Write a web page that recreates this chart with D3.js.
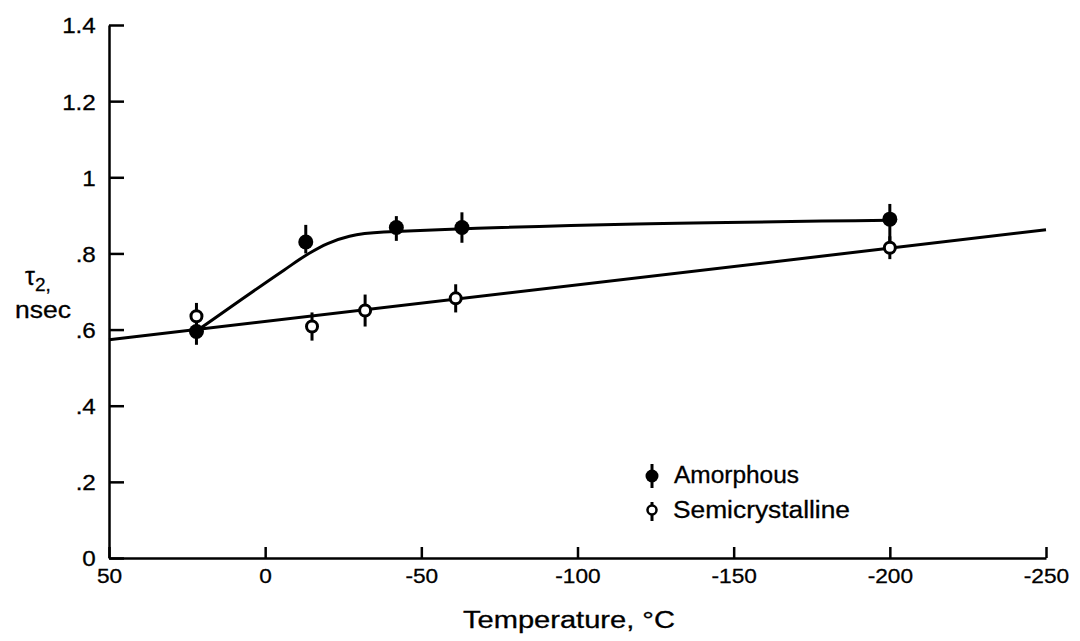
<!DOCTYPE html>
<html>
<head>
<meta charset="utf-8">
<script src="https://cdn.jsdelivr.net/npm/d3@7"></script>
<style>
	body { margin: 0; background: #fff; }
	svg { display: block; font-family: "Liberation Sans", Arial, sans-serif; }
	text { stroke: #000; stroke-width: 0.3px; }
</style>
</head>
<body>
<div class="chart"></div>
<script>
// measured values (temperature in degC, tau2 in nsec)
const amorT = [22, -13, -42, -63, -200];
const amorTau = [0.595, 0.83, 0.868, 0.868, 0.89];
const amorErrHi = [0.03, 0.045, 0.03, 0.04, 0.04];
const amorErrLo = [0.035, 0.03, 0.035, 0.04, 0.07];

const semiT = [22, -15, -32, -61, -200];
const semiTau = [0.635, 0.608, 0.65, 0.682, 0.815];
const semiErr = [0.035, 0.037, 0.042, 0.037, 0.03];

// drawn fit curves
const amorFitT = [22, -6, -14, -20, -27, -38, -200];
const amorFitTau = [0.596, 0.756, 0.8, 0.826, 0.845, 0.856, 0.887];
const semiFitT = [50, -250];
const semiFitTau = [0.573, 0.862];

const xTicks = [50, 0, -50, -100, -150, -200, -250];
const yTicks = [0, 0.2, 0.4, 0.6, 0.8, 1, 1.2, 1.4];
const yTickLabels = ["0", ".2", ".4", ".6", ".8", "1", "1.2", "1.4"];

const W = 1080, H = 641;
const margin = { top: 25, right: 34, bottom: 83, left: 109 };

const svg = d3.select(".chart").append("svg")
	.attr("width", W)
	.attr("height", H);

const x = d3.scaleLinear().domain([50, -250]).range([margin.left, W - margin.right]);
const y = d3.scaleLinear().domain([0, 1.4]).range([H - margin.bottom, margin.top]);

// axes
svg.append("g")
	.attr("transform", `translate(0,${H - margin.bottom})`)
	.call(d3.axisBottom(x).tickValues(xTicks).tickFormat((d) => String(d))
		.tickSizeInner(-11).tickSizeOuter(0).tickPadding(10))
	.call((g) => g.select(".domain").attr("stroke-width", 2.5))
	.call((g) => g.selectAll(".tick line").attr("stroke-width", 2.5))
	.call((g) => g.selectAll(".tick text")
		.attr("fill", "#000")
		.style("font-size", "21px")
		.attr("transform", "scale(1.08,1)"));

svg.append("g")
	.attr("transform", `translate(${margin.left},0)`)
	.call(d3.axisLeft(y).tickValues(yTicks).tickFormat((d, i) => yTickLabels[i])
		.tickSizeInner(-15).tickSizeOuter(0).tickPadding(12))
	.call((g) => g.select(".domain").attr("stroke-width", 2.5))
	.call((g) => g.selectAll(".tick line").attr("stroke-width", 2.5))
	.call((g) => g.selectAll(".tick text")
		.attr("fill", "#000")
		.style("font-size", "22px")
		.attr("dy", "0.36em")
		.attr("transform", "scale(1.1,1)"));

// axis titles
svg.append("text")
	.attr("x", 463)
	.attr("y", 628)
	.attr("textLength", 212)
	.attr("lengthAdjust", "spacingAndGlyphs")
	.style("font-size", "23px")
	.text("Temperature, °C");

const yl = svg.append("text").attr("x", 25).attr("y", 285).style("font-size", "25px");
yl.append("tspan").text("τ");
yl.append("tspan").attr("dy", 6).style("font-size", "19px").text("2,");
svg.append("text")
	.attr("x", 15)
	.attr("y", 318)
	.attr("textLength", 56)
	.attr("lengthAdjust", "spacingAndGlyphs")
	.style("font-size", "23px")
	.text("nsec");

// fit lines
const line = d3.line()
	.x((d) => x(d[0]))
	.y((d) => y(d[1]));

svg.append("path")
	.datum(semiFitT.map((t, i) => [t, semiFitTau[i]]))
	.attr("fill", "none")
	.attr("stroke", "#000")
	.attr("stroke-width", 3)
	.attr("d", line);

svg.append("path")
	.datum(amorFitT.map((t, i) => [t, amorFitTau[i]]))
	.attr("fill", "none")
	.attr("stroke", "#000")
	.attr("stroke-width", 3)
	.attr("d", line.curve(d3.curveMonotoneX));

// data points with error bars
const semi = semiT.map((t, i) => ({ t, v: semiTau[i], hi: semiErr[i], lo: semiErr[i] }));
const amor = amorT.map((t, i) => ({ t, v: amorTau[i], hi: amorErrHi[i], lo: amorErrLo[i] }));

const drawBars = (data) => {
	svg.append("g").selectAll("line")
		.data(data)
		.join("line")
		.attr("x1", (d) => x(d.t))
		.attr("x2", (d) => x(d.t))
		.attr("y1", (d) => y(d.v + d.hi))
		.attr("y2", (d) => y(d.v - d.lo))
		.attr("stroke", "#000")
		.attr("stroke-width", 3);
};
drawBars(semi);
drawBars(amor);

svg.append("g").selectAll("circle")
	.data(semi)
	.join("circle")
	.attr("cx", (d) => x(d.t))
	.attr("cy", (d) => y(d.v))
	.attr("r", 5.5)
	.attr("fill", "#fff")
	.attr("stroke", "#000")
	.attr("stroke-width", 3);

svg.append("g").selectAll("circle")
	.data(amor)
	.join("circle")
	.attr("cx", (d) => x(d.t))
	.attr("cy", (d) => y(d.v))
	.attr("r", 7.5)
	.attr("fill", "#000");

// legend
const legend = svg.append("g").attr("transform", "translate(652,0)");
legend.append("line").attr("y1", 464).attr("y2", 488).attr("stroke", "#000").attr("stroke-width", 3);
legend.append("circle").attr("cy", 476).attr("r", 6.5).attr("fill", "#000");
legend.append("line").attr("y1", 502).attr("y2", 521).attr("stroke", "#000").attr("stroke-width", 3);
legend.append("circle").attr("cy", 510).attr("r", 4.5).attr("fill", "#fff").attr("stroke", "#000").attr("stroke-width", 2.5);
legend.append("text").attr("x", 22).attr("y", 483)
	.attr("textLength", 125).attr("lengthAdjust", "spacingAndGlyphs")
	.style("font-size", "23px").text("Amorphous");
legend.append("text").attr("x", 21).attr("y", 518)
	.attr("textLength", 177).attr("lengthAdjust", "spacingAndGlyphs")
	.style("font-size", "23px").text("Semicrystalline");
</script>
</body>
</html>
